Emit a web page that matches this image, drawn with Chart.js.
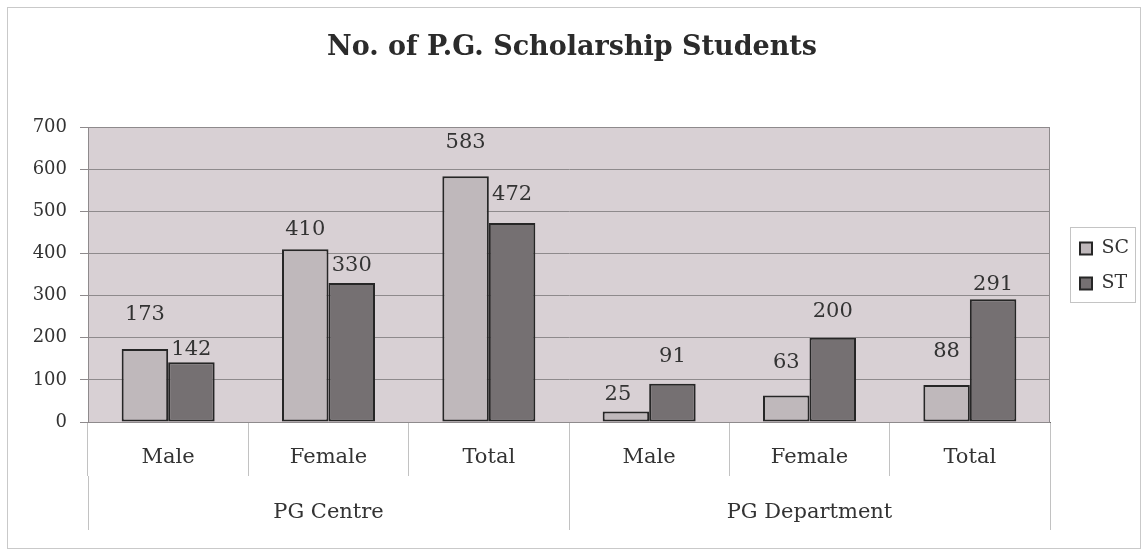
<!DOCTYPE html>
<html>
<head>
<meta charset="utf-8">
<title>No. of P.G. Scholarship Students</title>
<script src="https://cdn.jsdelivr.net/npm/chart.js@4.4.1/dist/chart.umd.min.js"></script>
<style>
    html, body { margin: 0; padding: 0; background: #fff; }
    #wrap { position: relative; width: 1144px; height: 555px; }
    #frame { position: absolute; left: 7px; top: 7px; width: 1132px; height: 540px; border: 1px solid #c9c9c9; }
    #chart { position: absolute; left: 0; top: 0; }
</style>
</head>
<body>
<div id="wrap">
    <div id="frame"></div>
    <canvas id="chart" width="1144" height="555"></canvas>
</div>
<script>
/* --- Data --- */
var categories = ['Male', 'Female', 'Total', 'Male', 'Female', 'Total'];
var groups     = ['PG Centre', 'PG Department'];
var scValues   = [173, 410, 583, 25, 63, 88];
var stValues   = [142, 330, 472, 91, 200, 291];
var yTicks     = [0, 100, 200, 300, 400, 500, 600, 700];

(function () {
    'use strict';

    var serif = "'DejaVu Serif', 'Liberation Serif', serif";
    Chart.defaults.font.family = serif;
    Chart.defaults.color = '#333';

    var plotBg   = '#d8d0d4';
    var plotLine = '#8e8a8c';
    var scFill   = '#bfb8bb';
    var stFill   = '#757072';
    var edge     = '#262626';

    /* ========================================
       Plugins: plot background, value labels, legend frame
       ======================================== */
    var plotArea = {
        id: 'plotArea',
        beforeDraw: function (chart) {
            var a = chart.chartArea, ctx = chart.ctx;
            ctx.save();
            ctx.fillStyle = plotBg;
            ctx.fillRect(a.left, a.top, a.right - a.left, a.bottom - a.top);
            ctx.restore();
        },
        beforeDatasetsDraw: function (chart) {
            var a = chart.chartArea, ctx = chart.ctx;
            ctx.save();
            ctx.strokeStyle = plotLine;
            ctx.lineWidth = 1;
            ctx.strokeRect(a.left + 0.5, a.top + 0.5, a.right - a.left - 1, a.bottom - a.top);
            ctx.restore();
        }
    };

    var valueLabels = {
        id: 'valueLabels',
        afterDatasetsDraw: function (chart, args, opts) {
            var ctx = chart.ctx;
            ctx.save();
            ctx.font = '21px ' + serif;
            ctx.fillStyle = '#333';
            ctx.textAlign = 'center';
            ctx.textBaseline = 'middle';
            chart.data.datasets.forEach(function (ds, di) {
                var lift = opts.lift[di];
                var nudge = opts.nudge[di];
                chart.getDatasetMeta(di).data.forEach(function (bar, i) {
                    ctx.fillText(String(ds.data[i]), bar.x + nudge[i], bar.y - lift[i]);
                });
            });
            ctx.restore();
        }
    };

    var legendFrame = {
        id: 'legendFrame',
        beforeInit: function (chart) {
            // fixed legend column width, like the Excel layout
            var fit = chart.legend.fit;
            chart.legend.fit = function () {
                fit.call(this);
                this.width = 94;
            };
        },
        afterLayout: function (chart) {
            chart.legend.left += 14;
            chart.legend.right += 14;
        },
        afterDraw: function (chart) {
            var lg = chart.legend, ctx = chart.ctx;
            var lab = lg.options.labels;
            var n = lg.legendItems.length;
            var colH = n * (lab.font.size + lab.padding);
            var y0 = (lg.top + lab.padding + lg.bottom - colH) / 2;
            var x0 = lg.left + lab.padding;
            ctx.save();
            ctx.strokeStyle = '#c4c4c4';
            ctx.lineWidth = 1;
            ctx.strokeRect(Math.round(x0 - 10) + 0.5, Math.round(y0 - 12) + 0.5, 65, 75);
            ctx.restore();
        }
    };

    /* ========================================
       Chart
       ======================================== */
    new Chart(document.getElementById('chart'), {
        type: 'bar',
        data: {
            labels: categories,
            datasets: [
                {
                    label: 'SC',
                    data: scValues,
                    backgroundColor: scFill,
                    borderColor: edge,
                    borderWidth: 2,
                    borderSkipped: false
                },
                {
                    label: 'ST',
                    data: stValues,
                    backgroundColor: stFill,
                    borderColor: edge,
                    borderWidth: 2,
                    borderSkipped: false
                }
            ]
        },
        plugins: [plotArea, valueLabels, legendFrame],
        options: {
            responsive: false,
            animation: false,
            categoryPercentage: 0.58,
            barPercentage: 1.0,
            layout: { padding: { top: 0, left: 0, right: 0, bottom: 23 } },
            plugins: {
                title: {
                    display: true,
                    text: 'No. of P.G. Scholarship Students',
                    color: '#2b2b2b',
                    font: { size: 27, weight: 'bold', family: serif },
                    padding: { top: 31.8, bottom: 62.8 }
                },
                legend: {
                    position: 'right',
                    labels: {
                        boxWidth: 12,
                        boxHeight: 12,
                        padding: 16,
                        color: '#333',
                        font: { size: 19, lineHeight: 1, family: serif }
                    }
                },
                tooltip: { enabled: false },
                valueLabels: {
                    lift: [
                        [35, 20, 34, 17, 33, 33],
                        [13, 17, 29, 27, 26, 15]
                    ],
                    nudge: [
                        [0, 0, 0, -8, 0, 0],
                        [0, 0, 0, 0, 0, 0]
                    ]
                }
            },
            scales: {
                x: {
                    position: 'bottom',
                    weight: 0,
                    grid: { offset: true, drawOnChartArea: false, tickLength: 54, color: '#c2c2c2' },
                    border: { color: '#6d6a6b' },
                    ticks: { padding: -31, maxRotation: 0, autoSkip: false, color: '#333', font: { size: 21 } },
                    afterFit: function (s) { s.height = 54; }
                },
                x2: {
                    type: 'category',
                    labels: groups,
                    position: 'bottom',
                    weight: 1,
                    offset: true,
                    grid: { offset: true, drawOnChartArea: false, tickLength: 54, color: '#c2c2c2' },
                    border: { display: false },
                    ticks: { padding: -30, maxRotation: 0, color: '#333', font: { size: 21 } },
                    afterFit: function (s) { s.height = 56; }
                },
                y: {
                    min: 0,
                    max: 700,
                    afterBuildTicks: function (s) {
                        s.ticks = yTicks.map(function (v) { return { value: v }; });
                    },
                    grid: { color: plotLine, tickLength: 8 },
                    border: { color: plotLine },
                    ticks: { padding: 13, color: '#333', font: { size: 18 } },
                    afterFit: function (s) { s.width = 88; }
                }
            }
        }
    });

})();
</script>
</body>
</html>
